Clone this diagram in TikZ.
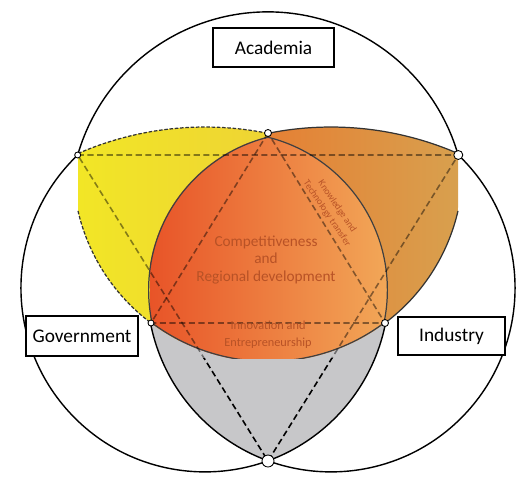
\documentclass[tikz,border=0pt]{standalone}
\usepackage{fontspec}
\setmainfont{Carlito}
\usetikzlibrary{calc}
\definecolor{hyellowL}{RGB}{242,230,38}
\definecolor{hyellowR}{RGB}{238,212,52}
\definecolor{horangeL}{RGB}{229,128,52}
\definecolor{horangeR}{RGB}{216,160,78}
\definecolor{hredL}{RGB}{232,84,40}
\definecolor{hredR}{RGB}{242,168,88}
\definecolor{hgrey}{RGB}{199,199,201}
\definecolor{htext}{RGB}{184,82,38}

\begin{document}
\begin{tikzpicture}[x=0.02cm, y=-0.02cm,
    helix/.style={line width=0.8pt},
    sector/.style={draw=black, fill=white, line width=0.7pt, inner sep=0pt, font=\fontsize{11}{13}\selectfont},
    hexline/.style={dash pattern=on 3.5pt off 2pt, line width=0.9pt},
    joint/.style={fill=white, draw=black, line width=0.5pt},
    core/.style={text=htext, align=center, font=\fontsize{8.7}{10.2}\selectfont},
]
\useasboundingbox (0,0) rectangle (525,477);

% ── centres of the circles ──
\coordinate (cA) at (268,210);   % Academia
\coordinate (cG) at (205,288);   % Government
\coordinate (cI) at (331,288);   % Industry
\coordinate (cT) at (268,167);   % inner top
\coordinate (cY) at (205,445);   % yellow top arc
\coordinate (cO) at (331,445);   % orange top arc
\coordinate (cRL) at (306,290);  % core, left side
\coordinate (cRR) at (230,290);  % core, right side

% ── junctions ──
\coordinate (jL) at (77.7,155);
\coordinate (jR) at (458.3,155);
\coordinate (jB) at (268,461);
\coordinate (jT) at (268,133);
\coordinate (kL) at (151,323);
\coordinate (kR) at (385,323);

% ── Government / Industry lens ──
\begin{scope}
  \clip (cG) circle (184);
  \clip (cI) circle (184);
  \fill[hgrey] (0,300) rectangle (525,477);
\end{scope}

% ── Academia / Government lens ──
\begin{scope}
  \clip (78,125) rectangle (268,340);
  \clip (cT) circle (195);
  \clip (cY) circle (318);
  \shade[left color=hyellowL, right color=hyellowR] (78,125) rectangle (268,340);
\end{scope}

% ── Academia / Industry lens ──
\begin{scope}
  \clip (268,125) rectangle (458,340);
  \clip (cT) circle (195);
  \clip (cO) circle (318);
  \shade[left color=horangeL, right color=horangeR] (268,125) rectangle (458,340);
\end{scope}

% ── core ──
\begin{scope}
  \clip (0,0) rectangle (525,358.5);
  \clip (cT) circle (195);
  \clip (cRL) circle (158);
  \clip (cRR) circle (158);
  \shade[left color=hredL, right color=hredR] (150,130) rectangle (390,360);
  \draw[line width=1.4pt, black!75] (cT) circle (195) (cRL) circle (158) (cRR) circle (158);
\end{scope}

% lens outlines
\draw[black!80, line width=0.7pt, dash pattern=on 2pt off 1pt] (78.2,153.4) arc[start angle=246.5, end angle=281.4, radius=318];
\draw[black!80, line width=0.7pt, dash pattern=on 2pt off 1pt] (78,210.9) arc[start angle=167, end angle=126.9, radius=195];
\draw[black!80, line width=0.7pt] (268.1,133.3) arc[start angle=258.6, end angle=293.5, radius=318];
\draw[black!80, line width=0.7pt] (458,210.9) arc[start angle=13, end angle=53.1, radius=195];

% ── hexagram ──
\begin{scope}
  \clip (0,0) rectangle (525,358.5);
  \draw[hexline, black, opacity=.45] (jL) -- (jR) -- (jB) -- cycle;
  \draw[hexline, black, opacity=.45] (jT) -- (kL) -- (kR) -- cycle;
\end{scope}
\begin{scope}
  \clip (0,358.5) rectangle (525,477);
  \draw[hexline] (jL) -- (jR) -- (jB) -- cycle;
\end{scope}

% ── helices ──
\draw[helix] (jL) arc[start angle=196.1, end angle=343.9, radius=198];
\draw[helix] (jL) arc[start angle=226.25, end angle=10.6, radius=184];
\draw[helix] (jR) arc[start angle=-46.25, end angle=169.4, radius=184];

% ── texts ──
\node[core] (compet) at (266,260) {Competitiveness\\and\\Regional development};
\node[core, font=\fontsize{7}{9.6}\selectfont] (innov) at (268,335) {Innovation and\\Entrepreneurship};
\node[core, font=\fontsize{5.5}{7}\selectfont, rotate=-56] (transfer) at (332,210) {Knowledge and\\Technology transfer};

\node[sector, minimum width=2.42cm, minimum height=0.78cm] (acad) at (273.5,47.5) {Academia};
\node[sector, minimum width=2.24cm, minimum height=0.8cm] (gov) at (82,336) {Government};
\node[sector, minimum width=2.14cm, minimum height=0.76cm] (ind) at (451.5,336) {Industry};

% junction marks
\filldraw[joint] (jL) circle (3);
\filldraw[joint] (jR) circle (4.5);
\filldraw[joint] (jT) circle (3.5);
\filldraw[joint] (kL) circle (3);
\filldraw[joint] (kR) circle (3.5);
\filldraw[joint] (jB) circle (6);

\end{tikzpicture}
\end{document}
